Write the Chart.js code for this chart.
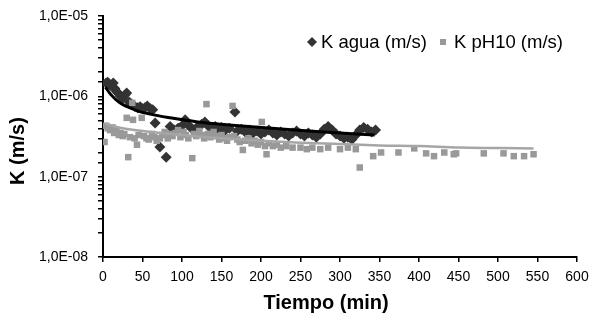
<!DOCTYPE html>
<html>
<head>
<meta charset="utf-8">
<script src="https://cdn.jsdelivr.net/npm/chart.js@4/dist/chart.umd.min.js"></script>
<style>
  html, body { margin: 0; padding: 0; background: #fff; }
  #wrap { width: 589px; height: 320px; }
</style>
</head>
<body>
<div id="wrap"><canvas id="chart"></canvas></div>
<script>
// K agua (m/s)
const aguaTime = [4, 6, 8, 10, 13, 15, 17, 19, 22, 25, 28, 30, 33, 36, 40, 44, 47, 50, 53, 56, 60, 63, 66, 72, 80,
  85, 90, 95, 100, 104, 108, 112, 116, 120, 125, 129, 133, 138, 142, 146, 150, 155, 160, 167, 170, 175, 180, 185,
  190, 195, 200, 205, 210, 215, 220, 225, 230, 235, 240, 245, 250, 255, 260, 265, 270, 275, 280, 285, 290, 295,
  300, 305, 310, 315, 320, 325, 330, 335, 340, 345];
const aguaK = [1.47e-6, 1.5e-6, 1.4e-6, 1.35e-6, 1.47e-6, 1.25e-6, 1.15e-6, 1.1e-6, 1.0e-6, 9.5e-7, 1.05e-6, 1.1e-6,
  8.5e-7, 8.0e-7, 7.5e-7, 7.2e-7, 7.4e-7, 7.0e-7, 7.2e-7, 7.6e-7, 7.0e-7, 6.8e-7, 4.65e-7, 2.34e-7, 1.75e-7,
  4.2e-7, 3.8e-7, 4.0e-7, 4.3e-7, 5.1e-7, 4.4e-7, 4.0e-7, 3.8e-7, 4.2e-7, 4.5e-7, 4.8e-7, 4.3e-7, 4.0e-7, 4.2e-7,
  3.9e-7, 4.1e-7, 3.8e-7, 4.0e-7, 6.4e-7, 3.7e-7, 3.9e-7, 3.6e-7, 3.8e-7, 3.5e-7, 3.7e-7, 3.4e-7, 3.6e-7, 3.8e-7,
  3.5e-7, 3.3e-7, 3.6e-7, 3.4e-7, 3.2e-7, 3.5e-7, 3.7e-7, 3.4e-7, 3.2e-7, 3.5e-7, 3.3e-7, 3.1e-7, 3.4e-7, 3.9e-7,
  4.2e-7, 3.8e-7, 3.4e-7, 3.2e-7, 3.0e-7, 3.1e-7, 2.9e-7, 3.3e-7, 3.8e-7, 4.1e-7, 3.9e-7, 3.6e-7, 3.8e-7];

// K pH10 (m/s)
const phTime = [2, 4, 6, 9, 12, 14, 17, 20, 22, 25, 27, 30, 32, 34, 37, 38, 40, 43, 45, 49, 52, 55, 58, 62, 65, 68,
  72, 75, 78, 82, 85, 88, 92, 95, 98, 102, 105, 108, 113, 115, 118, 122, 125, 128, 131, 133, 136, 140, 143, 147,
  150, 153, 157, 160, 164, 166, 170, 173, 177, 180, 184, 188, 192, 196, 200, 201, 205, 207, 210, 215, 220, 225,
  232, 240, 250, 258, 265, 275, 285, 300, 310, 320, 325, 342, 352, 374, 394, 409, 419, 432, 444, 447, 482, 507,
  520, 533, 545];
const phK = [2.7e-7, 4.3e-7, 4.0e-7, 3.8e-7, 4.1e-7, 3.5e-7, 3.7e-7, 3.3e-7, 3.5e-7, 3.2e-7, 3.4e-7, 5.4e-7, 1.75e-7,
  3.1e-7, 8.3e-7, 5.1e-7, 3.0e-7, 2.5e-7, 3.3e-7, 5.4e-7, 3.2e-7, 3.0e-7, 2.9e-7, 3.4e-7, 3.1e-7, 2.8e-7, 3.0e-7,
  3.3e-7, 3.6e-7, 3.0e-7, 3.4e-7, 3.2e-7, 3.5e-7, 3.8e-7, 3.1e-7, 3.6e-7, 3.3e-7, 3.0e-7, 1.7e-7, 3.4e-7, 3.2e-7,
  3.7e-7, 3.3e-7, 3.0e-7, 8.0e-7, 3.4e-7, 3.1e-7, 3.6e-7, 3.2e-7, 2.9e-7, 3.3e-7, 3.0e-7, 2.8e-7, 3.1e-7, 7.6e-7,
  3.2e-7, 2.9e-7, 2.7e-7, 2.15e-7, 2.8e-7, 3.0e-7, 2.6e-7, 2.8e-7, 2.5e-7, 2.7e-7, 4.8e-7, 2.4e-7, 1.9e-7, 2.6e-7,
  2.4e-7, 2.5e-7, 2.3e-7, 2.4e-7, 2.3e-7, 2.3e-7, 2.2e-7, 2.3e-7, 2.2e-7, 2.3e-7, 2.2e-7, 2.3e-7, 2.2e-7, 1.3e-7,
  1.8e-7, 2.0e-7, 2.0e-7, 2.25e-7, 1.95e-7, 1.8e-7, 2.0e-7, 1.9e-7, 1.95e-7, 1.95e-7, 1.95e-7, 1.8e-7, 1.8e-7,
  1.9e-7];

// trend lines
const aguaTrendTime = [3, 10, 20, 40, 60, 85, 120, 160, 213, 243, 290, 344];
const aguaTrendK = [1.3e-6, 1.05e-6, 8.5e-7, 6.8e-7, 6.0e-7, 5.4e-7, 4.8e-7, 4.4e-7, 4.0e-7, 3.8e-7, 3.55e-7, 3.3e-7];
const phTrendTime = [3, 20, 50, 100, 150, 200, 250, 300, 350, 400, 450, 500, 545];
const phTrendK = [4.6e-7, 4.1e-7, 3.7e-7, 3.3e-7, 3.0e-7, 2.8e-7, 2.65e-7, 2.55e-7, 2.45e-7, 2.4e-7, 2.3e-7, 2.27e-7, 2.24e-7];

const xTicks = [0, 50, 100, 150, 200, 250, 300, 350, 400, 450, 500, 550, 600];
const seriesNames = ['K agua (m/s)', 'K pH10 (m/s)'];

const FONT = '"Liberation Sans", Arial, sans-serif';
const DARK = '#333333';
const GREY = '#999999';
const GREY_LINE = '#a6a6a6';

function pts(xs, ys) { return xs.map((x, i) => ({ x: x, y: ys[i] })); }

function decadeLabel(v) {
  const e = Math.round(Math.log10(v));
  if (Math.abs(Math.log10(v) - e) > 1e-6) return '';
  const s = e < 0 ? '-' : '+';
  return '1,0E' + s + String(Math.abs(e)).padStart(2, '0');
}

// legend and axis titles drawn by hand to sit where the reference puts them
const overlay = {
  id: 'overlay',
  afterDraw(chart) {
    const ctx = chart.ctx;
    const a = chart.chartArea;
    ctx.save();
    ctx.fillStyle = '#000';
    ctx.font = 'bold 20px ' + FONT;
    ctx.textAlign = 'center';
    ctx.textBaseline = 'middle';
    ctx.fillText('Tiempo (min)', a.left + 223, 303);
    ctx.translate(18, a.top + 135);
    ctx.rotate(-Math.PI / 2);
    ctx.fillText('K (m/s)', 0, 0);
    ctx.restore();

    ctx.save();
    const ly = a.top + 26;
    ctx.fillStyle = DARK;
    ctx.beginPath();
    ctx.moveTo(312, ly - 5); ctx.lineTo(317, ly); ctx.lineTo(312, ly + 5); ctx.lineTo(307, ly);
    ctx.closePath();
    ctx.fill();
    ctx.fillStyle = GREY;
    ctx.fillRect(440, ly - 3, 6, 6);
    ctx.fillStyle = '#000';
    ctx.font = '18.5px ' + FONT;
    ctx.textAlign = 'left';
    ctx.textBaseline = 'middle';
    ctx.fillText(seriesNames[0], 321, ly + 1);
    ctx.fillText(seriesNames[1], 454, ly + 1);
    ctx.restore();
  }
};

new Chart(document.getElementById('chart'), {
  type: 'scatter',
  data: {
    datasets: [
      {
        label: seriesNames[1] + ' trend',
        data: pts(phTrendTime, phTrendK),
        showLine: true, pointRadius: 0, borderColor: GREY_LINE, borderWidth: 2.5,
        cubicInterpolationMode: 'monotone', order: 0
      },
      {
        label: seriesNames[0] + ' trend',
        data: pts(aguaTrendTime, aguaTrendK),
        showLine: true, pointRadius: 0, borderColor: '#000', borderWidth: 3,
        cubicInterpolationMode: 'monotone', order: 1
      },
      {
        label: seriesNames[1],
        data: pts(phTime, phK),
        pointStyle: 'rect', pointRadius: 4.6, backgroundColor: GREY, borderWidth: 0, order: 2
      },
      {
        label: seriesNames[0],
        data: pts(aguaTime, aguaK),
        pointStyle: 'rectRot', pointRadius: 5.5, backgroundColor: DARK, borderWidth: 0, order: 3
      }
    ]
  },
  options: {
    responsive: true,
    maintainAspectRatio: false,
    animation: false,
    layout: { padding: { top: 16, right: 12, left: 0, bottom: 0 } },
    plugins: { legend: { display: false }, tooltip: { enabled: false } },
    scales: {
      x: {
        type: 'linear', min: 0, max: 600,
        afterBuildTicks: (s) => { s.ticks = xTicks.map(v => ({ value: v })); },
        afterFit: (s) => { s.height = 63; s.paddingLeft = 0; s.paddingRight = 0; },
        border: { display: true, color: '#000', width: 2 },
        grid: { drawOnChartArea: false, drawTicks: true, tickLength: 5, color: '#000', lineWidth: 1.5 },
        ticks: { color: '#000', font: { family: FONT, size: 14 }, padding: 7, maxRotation: 0 }
      },
      y: {
        type: 'logarithmic', min: 1e-8, max: 1e-5,
        afterFit: (s) => { s.width = 103; s.paddingTop = 0; s.paddingBottom = 0; },
        border: { display: true, color: '#000', width: 2 },
        grid: { drawOnChartArea: false, drawTicks: true, tickLength: 5, color: '#000', lineWidth: 1.5 },
        ticks: {
          color: '#000', font: { family: FONT, size: 14 }, padding: 10, autoSkip: false,
          callback: (v) => decadeLabel(v)
        }
      }
    }
  },
  plugins: [overlay]
});
</script>
</body>
</html>
